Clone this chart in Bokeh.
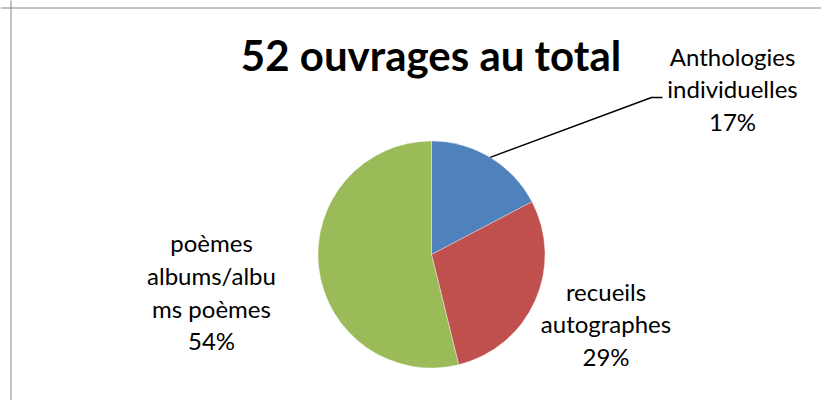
import math
from bokeh.plotting import figure
from bokeh.models import Range1d, Span
from bokeh.core.properties import value
from bokeh.embed import file_html
from bokeh.resources import INLINE

# ---- data ----
title_text = "52 ouvrages au total"
categories = ["Anthologies individuelles", "recueils autographes", "poèmes albums/albums poèmes"]
counts = [9, 15, 28]
percent_labels = ["17%", "29%", "54%"]
label_lines = [["Anthologies", "individuelles"], ["recueils", "autographes"], ["poèmes", "albums/albu", "ms poèmes"]]
colors = ["#4F81BD", "#C0504D", "#9BBB59"]

# ---- layout (pixels in picture coords converted to data) ----
W, H = 821, 400
def px(x):
    return x
def py(y):
    return H - y

cx, cy, r = px(431), py(254), 113.5
label_centers_x = [732, 605.5, 211]
label_first_baseline = [55.5, 290.5, 242]
line_gap = 32.8
font = "Lato"

p = figure(width=W, height=H, output_backend="svg", toolbar_location=None,
           x_range=Range1d(0, W), y_range=Range1d(0, H), min_border=0,
           outline_line_color=None, background_fill_color="white", border_fill_color="white")
p.axis.visible = False
p.grid.visible = False

# chart border (only top/left visible in the crop)
p.add_layout(Span(location=px(10.5), dimension="height", line_color="#868686", line_width=1))
p.add_layout(Span(location=py(7.5), dimension="width", line_color="#868686", line_width=1))

total = sum(counts)
cum = 0
mids = []
for c, col in zip(counts, colors):
    a0 = math.pi / 2 - 2 * math.pi * cum / total
    a1 = math.pi / 2 - 2 * math.pi * (cum + c) / total
    p.wedge(x=cx, y=cy, radius=r, start_angle=a0, end_angle=a1, direction="clock",
            fill_color=col, line_color="#ffffff", line_width=0.6, line_alpha=0.6)
    mids.append((a0 + a1) / 2)
    cum += c

# leader line for first label
m = mids[0]
sx, sy = cx + r * math.cos(m), cy + r * math.sin(m)
p.line(x=[sx, px(651), px(662)], y=[sy, py(97), py(97)], line_color="black", line_width=1.5)

# labels
for i in range(len(counts)):
    lines = label_lines[i] + [percent_labels[i]]
    for k, t in enumerate(lines):
        p.text(x=[px(label_centers_x[i])], y=[py(label_first_baseline[i] + k * line_gap)], text=[t],
               text_font=value(font), text_font_size="24px", text_align="center",
               text_baseline="alphabetic", text_color="black")

# title
p.text(x=[px(430.5)], y=[py(54)], text=[title_text], text_font=value(font),
       text_font_size="42px", text_font_style="bold", text_align="center",
       text_baseline="alphabetic", text_color="black")

open("out.html", "w").write(file_html(p, INLINE))
